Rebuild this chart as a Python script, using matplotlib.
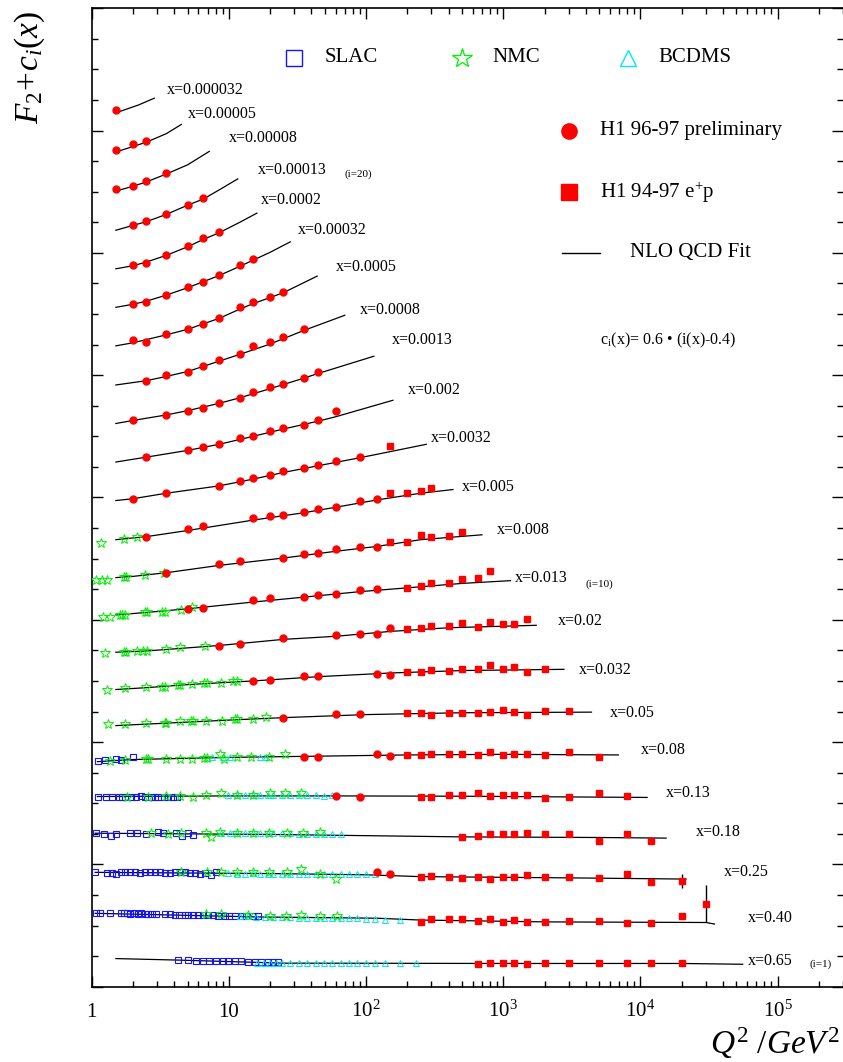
import numpy as np
import matplotlib
matplotlib.use("Agg")
import matplotlib.pyplot as plt
from matplotlib.ticker import FixedLocator, LogLocator, MultipleLocator, NullFormatter

# x bins, i = 1 (x=0.65) ... i = 23 (x=0.000032); offset c_i = 0.6*(i-0.4)
x_labels = ["x=0.65", "x=0.40", "x=0.25", "x=0.18", "x=0.13", "x=0.08", "x=0.05",
            "x=0.032", "x=0.02", "x=0.013", "x=0.008", "x=0.005", "x=0.0032",
            "x=0.002", "x=0.0013", "x=0.0008", "x=0.0005", "x=0.00032", "x=0.0002",
            "x=0.00013", "x=0.00008", "x=0.00005", "x=0.000032"]

# NLO QCD fit (Q2, F2) per bin
fit_q = [
    [1.5, 4.3, 25, 1000, 20000, 55700],
    [1.06, 17, 120, 250, 2000, 30000, 34700],
    [1.06, 20, 100, 250, 3000, 21500],
    [1.06, 20, 100, 500, 5000, 15400],
    [1.1, 10, 60, 500, 11200],
    [1.1, 2, 10, 45, 200, 1000, 6900],
    [1.5, 3.5, 10, 25, 100, 500, 4400],
    [1.5, 2.5, 5, 15, 45, 150, 500, 2770],
    [1.5, 2.5, 8.5, 25, 60, 150, 400, 1740],
    [1.5, 2.5, 5, 15, 35, 90, 250, 500, 1130],
    [1.5, 2, 3.5, 8.5, 25, 60, 120, 250, 700],
    [1.5, 2.5, 5, 15, 35, 60, 120, 250, 430],
    [1.5, 2, 3.5, 8.5, 15, 25, 45, 90, 150, 275],
    [1.5, 2.5, 5, 8.5, 15, 25, 45, 60, 157],
    [1.5, 2, 3.5, 5, 8.5, 12, 20, 35, 45, 114],
    [1.5, 2.5, 3.5, 5, 8.5, 12, 20, 35, 70],
    [1.5, 2, 3.5, 5, 8.5, 12, 15, 20, 25, 44],
    [1.5, 2, 2.5, 3.5, 5, 8.5, 12, 15, 20, 28],
    [1.5, 2, 2.5, 3.5, 5, 6.5, 8.5, 12, 16],
    [1.5, 2, 2.5, 3.5, 5, 6.5, 8.5, 11.6],
    [1.5, 2, 2.5, 3.5, 5, 7.2],
    [1.5, 2, 2.5, 3.5, 4.5],
    [1.5, 2.2, 2.86],
]
fit_f2 = [
    [0.10, 0.075, 0.025, 0.02, 0.02, 0.007],
    [0.24, 0.18, 0.16, 0.13, 0.10, 0.09, 0.065],
    [0.31, 0.29, 0.27, 0.24, 0.22, 0.20],
    [0.35, 0.33, 0.31, 0.29, 0.28, 0.27],
    [0.35, 0.36, 0.36, 0.355, 0.335],
    [0.32, 0.355, 0.39, 0.41, 0.43, 0.44, 0.43],
    [0.31, 0.35, 0.40, 0.44, 0.49, 0.52, 0.53],
    [0.30, 0.33, 0.38, 0.44, 0.51, 0.57, 0.61, 0.63],
    [0.31, 0.33, 0.42, 0.52, 0.57, 0.65, 0.71, 0.75],
    [0.32, 0.36, 0.42, 0.53, 0.61, 0.70, 0.78, 0.835, 0.88],
    [0.33, 0.35, 0.41, 0.53, 0.65, 0.76, 0.84, 0.95, 1.03],
    [0.35, 0.40, 0.50, 0.67, 0.79, 0.88, 1.00, 1.11, 1.17],
    [0.39, 0.42, 0.51, 0.63, 0.74, 0.85, 0.96, 1.09, 1.19, 1.31],
    [0.42, 0.50, 0.61, 0.71, 0.84, 0.96, 1.09, 1.16, 1.43],
    [0.45, 0.50, 0.59, 0.66, 0.78, 0.87, 1.02, 1.19, 1.27, 1.55],
    [0.48, 0.55, 0.62, 0.70, 0.87, 0.98, 1.15, 1.37, 1.62],
    [0.52, 0.57, 0.70, 0.79, 0.97, 1.12, 1.21, 1.31, 1.39, 1.66],
    [0.55, 0.60, 0.65, 0.75, 0.87, 1.07, 1.22, 1.32, 1.45, 1.62],
    [0.58, 0.63, 0.69, 0.80, 0.94, 1.06, 1.17, 1.34, 1.49],
    [0.61, 0.69, 0.75, 0.87, 1.02, 1.12, 1.27, 1.45],
    [0.65, 0.73, 0.80, 0.93, 1.08, 1.30],
    [0.69, 0.78, 0.85, 0.99, 1.14],
    [0.73, 0.86, 0.97],
]

# H1 96-97 preliminary (circles)
h1c_q = [
    [], [], [120, 150], [], [60, 90], [35, 45, 120, 150], [25, 60, 90],
    [15, 20, 35, 45, 120, 150],
    [8.5, 12, 25, 60, 90, 120, 150],
    [5, 6.5, 15, 20, 35, 45, 60, 90, 120],
    [3.5, 8.5, 12, 25, 35, 45, 60, 90, 120],
    [2.5, 5, 6.5, 15, 20, 25, 35, 45, 60, 90, 120],
    [2, 3.5, 8.5, 12, 15, 20, 25, 35, 45, 60, 90],
    [2.5, 5, 6.5, 8.5, 12, 15, 20, 25, 35, 45, 60],
    [2, 3.5, 5, 6.5, 8.5, 12, 15, 20, 25, 35, 45],
    [2.5, 3.5, 5, 6.5, 8.5, 12, 15, 20, 25, 35],
    [2, 2.5, 3.5, 5, 6.5, 8.5, 12, 15, 20, 25],
    [2, 2.5, 3.5, 5, 6.5, 8.5, 12, 15],
    [2, 2.5, 3.5, 5, 6.5, 8.5],
    [2, 2.5, 3.5, 5, 6.5],
    [1.5, 2, 2.5, 3.5],
    [1.5, 2, 2.5],
    [1.5],
]
h1c_f2 = [
    [], [], [0.315, 0.29], [], [0.36, 0.335], [0.40, 0.39, 0.45, 0.41], [0.44, 0.50, 0.50],
    [0.44, 0.45, 0.52, 0.52, 0.55, 0.54],
    [0.41, 0.45, 0.54, 0.59, 0.61, 0.60, 0.70],
    [0.41, 0.43, 0.56, 0.60, 0.62, 0.65, 0.67, 0.73, 0.74],
    [0.41, 0.56, 0.60, 0.65, 0.71, 0.74, 0.80, 0.83, 0.83],
    [0.39, 0.52, 0.58, 0.70, 0.74, 0.75, 0.81, 0.86, 0.89, 0.99, 1.01],
    [0.41, 0.52, 0.63, 0.71, 0.76, 0.81, 0.87, 0.93, 0.97, 1.04, 1.11],
    [0.51, 0.61, 0.66, 0.72, 0.81, 0.85, 0.93, 0.98, 1.03, 1.11, 1.26],
    [0.51, 0.59, 0.65, 0.70, 0.79, 0.87, 0.96, 1.05, 1.09, 1.19, 1.30],
    [0.55, 0.64, 0.69, 0.79, 0.89, 0.98, 1.11, 1.18, 1.26, 1.39],
    [0.61, 0.59, 0.71, 0.80, 0.88, 0.98, 1.15, 1.24, 1.32, 1.40],
    [0.61, 0.63, 0.75, 0.88, 0.96, 1.08, 1.24, 1.34],
    [0.64, 0.68, 0.81, 0.95, 1.09, 1.18],
    [0.70, 0.76, 0.88, 1.03, 1.13],
    [0.68, 0.74, 0.81, 0.94],
    [0.72, 0.82, 0.87],
    [0.78],
]

# H1 94-97 e+p (squares)
h1s_q = [
    [650, 800, 1000, 1200, 1500, 2000, 3000, 5000, 8000, 12000, 20000],
    [250, 300, 400, 500, 650, 800, 1000, 1200, 1500, 2000, 3000, 5000, 8000, 12000, 20000, 30000],
    [250, 300, 400, 500, 650, 800, 1000, 1200, 1500, 2000, 3000, 5000, 8000, 12000, 20000],
    [500, 650, 800, 1000, 1200, 1500, 2000, 3000, 5000, 8000, 12000],
    [250, 300, 400, 500, 650, 800, 1000, 1200, 1500, 2000, 3000, 5000, 8000],
    [200, 250, 300, 400, 500, 650, 800, 1000, 1200, 1500, 2000, 3000, 5000],
    [200, 250, 300, 400, 500, 650, 800, 1000, 1200, 1500, 2000, 3000],
    [200, 250, 300, 400, 500, 650, 800, 1000, 1200, 1500, 2000],
    [200, 250, 300, 400, 500, 650, 800, 1000, 1200, 1500],
    [200, 250, 300, 400, 500, 650, 800],
    [150, 200, 250, 300, 400, 500],
    [150, 200, 250, 300],
    [150],
    [], [], [], [], [], [], [], [], [], [],
]
h1s_f2 = [
    [0.01, 0.023, 0.023, 0.023, 0.015, 0.023, 0.023, 0.023, 0.023, 0.023, 0.027],
    [0.10, 0.14, 0.15, 0.14, 0.12, 0.14, 0.10, 0.13, 0.10, 0.10, 0.12, 0.12, 0.085, 0.085, 0.20, 0.40],
    [0.24, 0.25, 0.23, 0.21, 0.24, 0.20, 0.24, 0.24, 0.27, 0.24, 0.23, 0.21, 0.29, 0.16, 0.17],
    [0.28, 0.31, 0.34, 0.34, 0.34, 0.35, 0.335, 0.33, 0.23, 0.335, 0.22],
    [0.335, 0.35, 0.37, 0.37, 0.40, 0.36, 0.37, 0.38, 0.37, 0.33, 0.35, 0.41, 0.36],
    [0.43, 0.43, 0.44, 0.44, 0.44, 0.43, 0.47, 0.43, 0.44, 0.45, 0.43, 0.48, 0.40],
    [0.51, 0.52, 0.49, 0.51, 0.51, 0.52, 0.53, 0.56, 0.53, 0.49, 0.55, 0.55],
    [0.59, 0.59, 0.62, 0.60, 0.64, 0.63, 0.70, 0.63, 0.66, 0.58, 0.64],
    [0.69, 0.71, 0.74, 0.74, 0.79, 0.72, 0.80, 0.77, 0.77, 0.85],
    [0.76, 0.80, 0.84, 0.84, 0.91, 0.92, 1.04],
    [0.91, 0.91, 1.02, 1.00, 1.01, 1.08],
    [1.11, 1.12, 1.15, 1.20],
    [1.28],
    [], [], [], [], [], [], [], [], [], [],
]

# error bars drawn on some H1 squares: (bin i, Q2, error)
err_bin = [2, 2, 3, 4, 5, 9]
err_q = [30000, 20000, 20000, 12000, 8000, 1500]
err_size = [0.30, 0.05, 0.115, 0.03, 0.03, 0.03]

# SLAC (bins 1-6)
slac_q = [
    [4.25, 5.0, 5.8, 6.5, 7.2, 8.1, 9.0, 9.8, 11.0, 12.3, 13.7, 15.4, 17.2, 19.3, 21.0, 22.9],
    [1.08, 1.14, 1.37, 1.63, 1.72, 1.81, 1.91, 2.02, 2.17, 2.30, 2.43, 2.57, 2.75, 2.95, 3.40,
     3.70, 4.06, 4.30, 4.76, 5.03, 5.47, 5.94, 6.47, 7.03, 7.65, 8.31, 9.31, 10.1, 11.0, 12.4,
     13.4, 15.0, 16.3],
    [1.06, 1.30, 1.41, 1.51, 1.63, 1.76, 1.90, 2.06, 2.24, 2.43, 2.64, 2.87, 3.12, 3.40, 3.70,
     4.02, 4.37, 4.76, 5.17, 5.63, 6.12, 6.65, 7.4, 8.1],
    [1.08, 1.23, 1.38, 1.51, 1.89, 2.15, 2.50, 3.04, 3.31, 4.14, 4.57, 5.03, 5.47],
    [1.12, 1.28, 1.41, 1.57, 1.66, 1.74, 1.94, 2.11, 2.30, 2.46, 2.69, 2.88, 3.04, 3.37, 3.60,
     3.91, 4.20],
    [1.12, 1.26, 1.51, 1.64, 2.0],
]
slac_f2 = [
    [0.077, 0.08, 0.06, 0.06, 0.065, 0.06, 0.06, 0.06, 0.055, 0.06, 0.05, 0.05, 0.05, 0.05, 0.05, 0.045],
    [0.24, 0.24, 0.245, 0.24, 0.24, 0.24, 0.235, 0.24, 0.235, 0.24, 0.23, 0.235, 0.23, 0.23, 0.23,
     0.225, 0.22, 0.22, 0.22, 0.215, 0.21, 0.21, 0.21, 0.21, 0.205, 0.20, 0.20, 0.20, 0.20, 0.195,
     0.20, 0.19, 0.19],
    [0.31, 0.30, 0.30, 0.29, 0.31, 0.31, 0.31, 0.31, 0.30, 0.31, 0.31, 0.31, 0.31, 0.30, 0.30,
     0.31, 0.31, 0.31, 0.30, 0.30, 0.29, 0.30, 0.27, 0.31],
    [0.35, 0.33, 0.31, 0.33, 0.35, 0.35, 0.33, 0.37, 0.35, 0.35, 0.31, 0.35, 0.32],
    [0.34, 0.35, 0.35, 0.35, 0.35, 0.35, 0.35, 0.35, 0.36, 0.35, 0.35, 0.35, 0.35, 0.35, 0.35,
     0.34, 0.35],
    [0.33, 0.35, 0.36, 0.35, 0.39],
]

# NMC (bins 2-12)
nmc_bins = [2, 3, 4, 5, 6, 7, 8, 9, 10, 11, 12]
nmc_q = [
    [6.8, 8.8, 13.8, 19.9, 26.2, 33.8, 46, 61],
    [4.5, 6.9, 8.8, 11.4, 15, 19.6, 26.5, 33.8, 46.5, 60],
    [2.7, 3.6, 4.5, 6.8, 7.4, 8.6, 11.4, 15, 19.6, 26.5, 34.8, 46],
    [1.82, 2.57, 3.5, 4.37, 5.47, 6.83, 8.8, 11.4, 15, 19.9, 25.5, 33.8],
    [1.35, 1.74, 2.5, 2.58, 3.5, 4.4, 5.4, 6.6, 6.9, 8.6, 9.2, 11.5, 14.6, 19.7, 25.6],
    [1.32, 1.76, 2.5, 3.4, 3.5, 4.4, 5.3, 5.5, 6.8, 8.9, 11.1, 11.5, 14.9, 18.8],
    [1.30, 1.75, 2.5, 3.23, 3.4, 4.28, 4.42, 5.4, 6.6, 6.95, 8.7, 10.8, 11.4],
    [1.26, 1.72, 1.79, 2.15, 2.36, 2.54, 3.5, 4.37, 6.7],
    [1.21, 1.37, 1.60, 1.67, 1.74, 2.43, 2.54, 3.25, 3.44, 4.45, 5.38],
    [1.08, 1.18, 1.30, 1.71, 1.78, 2.43, 3.36],
    [1.17, 1.71, 2.14],
]
nmc_f2 = [
    [0.23, 0.23, 0.22, 0.20, 0.20, 0.21, 0.20, 0.20],
    [0.31, 0.31, 0.32, 0.31, 0.31, 0.32, 0.32, 0.36, 0.29, 0.20],
    [0.35, 0.33, 0.36, 0.36, 0.28, 0.37, 0.36, 0.35, 0.36, 0.36, 0.35, 0.37],
    [0.35, 0.35, 0.36, 0.36, 0.35, 0.37, 0.40, 0.37, 0.37, 0.40, 0.40, 0.40],
    [0.335, 0.35, 0.36, 0.36, 0.36, 0.37, 0.37, 0.38, 0.38, 0.44, 0.36, 0.39, 0.40, 0.40, 0.44],
    [0.33, 0.33, 0.35, 0.36, 0.36, 0.38, 0.39, 0.39, 0.39, 0.39, 0.42, 0.42, 0.42, 0.45],
    [0.30, 0.32, 0.345, 0.345, 0.345, 0.38, 0.38, 0.39, 0.41, 0.41, 0.40, 0.44, 0.44],
    [0.29, 0.31, 0.31, 0.33, 0.33, 0.33, 0.37, 0.40, 0.41],
    [0.29, 0.29, 0.32, 0.32, 0.32, 0.37, 0.37, 0.37, 0.37, 0.40, 0.45],
    [0.29, 0.29, 0.29, 0.34, 0.34, 0.38, 0.40],
    [0.30, 0.355, 0.39],
]

# BCDMS (bins 1-6)
bcdms_q = [
    [16, 18, 20, 22, 24.2, 28.1, 32.5, 37.4, 43, 49.4, 56.9, 65.4, 75.2, 86.5, 99.5, 115.6, 138, 176, 230],
    [12.0, 13.7, 15.7, 18.3, 21.0, 24.2, 28.1, 32.5, 37.4, 43, 49.4, 56.9, 65.4, 75.2, 86.5, 99.5,
     115.6, 138, 176],
    [9.8, 11.4, 13, 15, 16.8, 19.2, 21, 24.2, 28.1, 32.5, 37.4, 43, 49.4, 56.9, 65.4, 75.2, 86.5,
     99.5, 115.6],
    [8.8, 10.2, 11.5, 13, 15, 16.8, 19.2, 21, 24.2, 28.1, 32.5, 37.4, 43, 49.4, 56.9, 66],
    [9.8, 11.4, 13, 15, 16.8, 19.2, 21, 24.2, 28.1, 32.5, 37.4, 43, 49.4, 56.9],
    [7.5, 9.1, 10.2, 16.8, 18.8],
]
bcdms_f2 = [
    [0.035, 0.035, 0.035, 0.03, 0.03, 0.03, 0.03, 0.03, 0.03, 0.03, 0.03, 0.03, 0.03, 0.03, 0.03,
     0.025, 0.025, 0.025, 0.025],
    [0.19, 0.19, 0.18, 0.18, 0.18, 0.18, 0.18, 0.17, 0.17, 0.17, 0.17, 0.17, 0.16, 0.16, 0.16,
     0.15, 0.14, 0.13, 0.13],
    [0.30, 0.29, 0.29, 0.30, 0.29, 0.29, 0.29, 0.29, 0.29, 0.29, 0.29, 0.29, 0.29, 0.29, 0.28,
     0.28, 0.28, 0.28, 0.28],
    [0.36, 0.35, 0.35, 0.35, 0.35, 0.35, 0.35, 0.35, 0.35, 0.35, 0.34, 0.34, 0.34, 0.34, 0.34, 0.34],
    [0.37, 0.38, 0.37, 0.37, 0.37, 0.38, 0.37, 0.37, 0.37, 0.37, 0.37, 0.37, 0.36, 0.37],
    [0.39, 0.39, 0.39, 0.39, 0.39],
]

# where the x=... labels sit (Q2, F2+c)
lbl_q = [60550, 60550, 40350, 25210, 15240, 10140, 6025, 3540, 2502, 1211, 906, 503, 299,
         202, 153, 90, 60, 32, 17.1, 16.2, 10.0, 5.03, 3.52]
lbl_y = [0.42, 1.13, 1.88, 2.53, 3.17, 3.87, 4.48, 5.18, 5.98, 6.68, 7.47, 8.17, 8.98,
         9.75, 10.57, 11.06, 11.77, 12.38, 12.86, 13.36, 13.88, 14.27, 14.67]

RED = "#ff0000"
GREEN = "#00f000"
BLUE = "#1414ff"
CYAN = "#00e8f0"

plt.rcParams["font.family"] = ["Liberation Serif", "DejaVu Serif"]
plt.rcParams["mathtext.fontset"] = "custom"
plt.rcParams["mathtext.rm"] = "Liberation Serif"
plt.rcParams["mathtext.it"] = "Liberation Serif:italic"


def offset(i):
    return 0.6 * (i - 0.4)


fig = plt.figure(figsize=(8.43, 10.62), dpi=100)
ax = fig.add_axes([0.1088, 0.0709, 0.8912, 0.9213])
ax.set_xscale("log")
ax.set_xlim(1, 3e5)
ax.set_ylim(0, 16)

for k in range(23):
    c = offset(k + 1)
    ax.plot(fit_q[k], np.array(fit_f2[k]) + c, color="black", lw=0.9, zorder=2)
    ax.text(lbl_q[k], lbl_y[k], x_labels[k], fontsize=11.5, ha="left", va="center")

for k in range(len(slac_q)):
    ax.plot(slac_q[k], np.array(slac_f2[k]) + offset(k + 1), ls="none", marker="s", ms=4.6,
            mfc="none", mec=BLUE, mew=0.8, zorder=3)

for k, b in enumerate(nmc_bins):
    ax.plot(nmc_q[k], np.array(nmc_f2[k]) + offset(b), ls="none", marker="*", ms=7.5,
            mfc="none", mec=GREEN, mew=0.7, zorder=4)

for k in range(len(bcdms_q)):
    ax.plot(bcdms_q[k], np.array(bcdms_f2[k]) + offset(k + 1), ls="none", marker="^", ms=5,
            mfc="none", mec=CYAN, mew=0.7, zorder=3)

for k in range(23):
    c = offset(k + 1)
    if h1c_q[k]:
        ax.plot(h1c_q[k], np.array(h1c_f2[k]) + c, ls="none", marker="o", ms=5,
                mfc=RED, mec=RED, zorder=5)
    if h1s_q[k]:
        ax.plot(h1s_q[k], np.array(h1s_f2[k]) + c, ls="none", marker="s", ms=4.6,
                mfc=RED, mec=RED, zorder=5)

for b, q, e in zip(err_bin, err_q, err_size):
    f2 = h1s_f2[b - 1][h1s_q[b - 1].index(q)]
    ax.errorbar([q], [f2 + offset(b)], yerr=[e], fmt="none", ecolor="black",
                elinewidth=1.0, capsize=0, zorder=4)

# small bin tags
ax.text(70, 13.29, "(i=20)", fontsize=8, ha="left", va="center")
ax.text(3980, 6.59, "(i=10)", fontsize=8, ha="left", va="center")
ax.text(170600, 0.36, "(i=1)", fontsize=8, ha="left", va="center")

# legend drawn by hand
tr = ax.transAxes
ax.plot([0.2693], [0.9492], transform=tr, marker="s", ms=11, mfc="none", mec=BLUE,
        mew=1.0, clip_on=False)
ax.text(0.3105, 0.9492, "SLAC", transform=tr, fontsize=15, va="center")
ax.plot([0.4929], [0.9492], transform=tr, marker="*", ms=15, mfc="none", mec=GREEN,
        mew=0.9, clip_on=False)
ax.text(0.5328, 0.9492, "NMC", transform=tr, fontsize=15, va="center")
ax.plot([0.7138], [0.9492], transform=tr, marker="^", ms=12, mfc="none", mec=CYAN,
        mew=1.0, clip_on=False)
ax.text(0.7538, 0.9492, "BCDMS", transform=tr, fontsize=15, va="center")
ax.plot([0.6353], [0.8746], transform=tr, marker="o", ms=11, color=RED, clip_on=False)
ax.text(0.6766, 0.8746, "H1 96-97 preliminary", transform=tr, fontsize=15, va="center")
ax.plot([0.6353], [0.8122], transform=tr, marker="s", ms=11, color=RED, clip_on=False)
ax.text(0.6766, 0.8122, "H1 94-97 e$^{+}$p", transform=tr, fontsize=15, va="center")
ax.plot([0.6260, 0.6766], [0.7499, 0.7499], transform=tr, color="black", lw=1.0)
ax.text(0.7165, 0.7499, "NLO QCD Fit", transform=tr, fontsize=15, va="center")
ax.text(0.6766, 0.6610, "c$_{\\rm i}$(x)= 0.6 \u2022 (i(x)-0.4)", transform=tr,
        fontsize=11.5, va="center")

# axes and ticks
ax.xaxis.set_major_locator(FixedLocator([1, 10, 100, 1e3, 1e4, 1e5]))
ax.xaxis.set_minor_locator(LogLocator(base=10, subs=np.arange(2, 10), numticks=30))
ax.xaxis.set_minor_formatter(NullFormatter())
ax.set_xticklabels(["1", "10", "$10^{2}$", "$10^{3}$", "$10^{4}$", "$10^{5}$"])
ax.yaxis.set_major_locator(MultipleLocator(2))
ax.yaxis.set_minor_locator(MultipleLocator(0.5))
ax.tick_params(which="both", direction="in", top=True, right=True, labelleft=False, width=1)
ax.tick_params(which="major", length=8)
ax.tick_params(which="minor", length=4)
ax.tick_params(axis="x", labelsize=15, pad=22)
for t in ax.get_xticklabels():
    t.set_verticalalignment("baseline")
for s in ["left", "bottom", "top"]:
    ax.spines[s].set_linewidth(1.2)
ax.spines["right"].set_visible(False)

fig.text(0.0356, 0.9369, "$F_2\\!+\\!c_i(x)$", rotation=90, fontsize=24,
         ha="center", va="center")
fig.text(0.9964, 0.018, "$Q^2\\ /GeV^2$", fontsize=24, ha="right", va="center")

fig.savefig("out.png", dpi=100)
